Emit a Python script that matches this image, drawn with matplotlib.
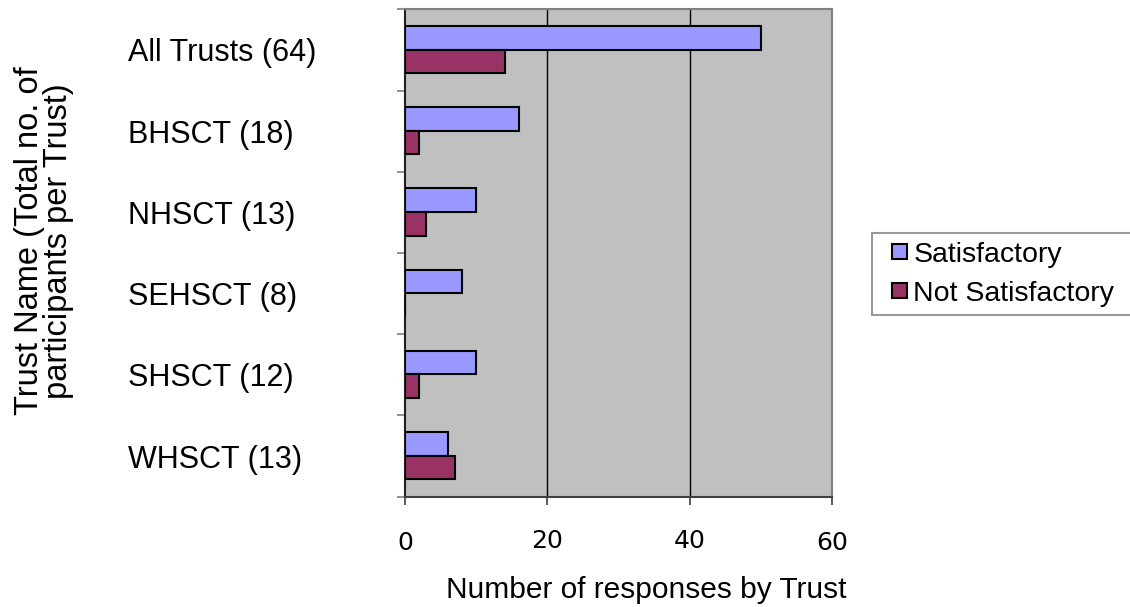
import numpy as np
import matplotlib
matplotlib.use("Agg")
import matplotlib.pyplot as plt
import matplotlib.transforms as mtransforms
from matplotlib.patches import Patch, Rectangle
from matplotlib.legend_handler import HandlerPatch

plt.rcParams['font.family'] = ['Liberation Sans', 'DejaVu Sans']

# responses per trust
trusts = ["All Trusts (64)", "BHSCT (18)", "NHSCT (13)", "SEHSCT (8)", "SHSCT (12)", "WHSCT (13)"]
satisfactory = [50, 16, 10, 8, 10, 6]
not_satisfactory = [14, 2, 3, 0, 2, 7]
x_ticks = [0, 20, 40, 60]

sat_color = "#9999FF"
not_color = "#993366"

fig = plt.figure(figsize=(11.3, 6.07), dpi=100)
ax = fig.add_axes([405 / 1130, 1 - 496.7 / 607, 427 / 1130, 487.4 / 607])
ax.set_facecolor("#C0C0C0")

pos = np.arange(len(trusts))
h = 0.29
ax.barh(pos + 0.495 - h / 2, satisfactory, height=h, color=sat_color,
        edgecolor="black", linewidth=1.5, zorder=3)
ax.barh(pos + 0.495 + h / 2, not_satisfactory, height=h, color=not_color,
        edgecolor="black", linewidth=1.5, zorder=3)

ax.set_xlim(0, 60)
ax.set_ylim(len(trusts), 0)

# gridlines at 20 and 40
for v in x_ticks[1:-1]:
    ax.axvline(v, color="black", linewidth=1, zorder=1)

# category boundaries get tick marks, labels sit in between
ax.set_yticks(np.arange(len(trusts) + 1))
ax.set_yticklabels([])
ax.set_yticks(pos + 0.5, minor=True)
ax.set_yticklabels(trusts, minor=True, ha="left")
ax.tick_params(axis="y", which="minor", length=0, pad=277 * 0.72, labelsize=22)
ax.tick_params(axis="y", which="major", length=6, width=1.2, color="#808080", direction="out")

ax.set_xticks(x_ticks)
ax.set_xticklabels([str(v) for v in x_ticks])
ax.tick_params(axis="x", length=6, width=1.2, color="#404040", direction="out",
               pad=17, labelsize=18)
# the end labels sit slightly lower
for i, lab in enumerate(ax.get_xticklabels()):
    lab.set_family("DejaVu Sans")
    if i in (0, len(x_ticks) - 1):
        lab.set_transform(lab.get_transform() +
                          mtransforms.ScaledTranslation(0, -2.5 / 100, fig.dpi_scale_trans))

for side in ("top", "right"):
    ax.spines[side].set_color("#808080")
    ax.spines[side].set_linewidth(1.5)
ax.spines["left"].set_color("#202020")
ax.spines["left"].set_linewidth(1.5)
ax.spines["bottom"].set_color("#404040")
ax.spines["bottom"].set_linewidth(1.5)

fig.text(646 / 1130, 1 - 590 / 607, "Number of responses by Trust", fontsize=21.5,
         ha="center", va="center")
fig.text(44 / 1130, 1 - 241 / 607, "Trust Name (Total no. of\nparticipants per Trust)",
         fontsize=23.5, rotation=90, ha="center", va="center", multialignment="center",
         linespacing=0.95)


def square_handle(legend, orig_handle, xdescent, ydescent, width, height, fontsize):
    # small square pushed to the right end of the handle box
    s = 15 * 72 / 100
    return Rectangle((-xdescent + width - s, -ydescent + (height - s) / 2), s, s)


handles = [Patch(facecolor=sat_color, edgecolor="black", linewidth=1.5),
           Patch(facecolor=not_color, edgecolor="black", linewidth=1.5)]
leg = fig.legend(handles, ["Satisfactory", "Not Satisfactory"],
                 bbox_to_anchor=(872 / 1130, 1 - 318 / 607, 1.02 - 872 / 1130, 85 / 607),
                 loc="upper left", mode="expand", fontsize=20.5, frameon=True,
                 fancybox=False, borderaxespad=0, handlelength=0.92, handleheight=0.5,
                 handletextpad=0.23, labelspacing=0.47, borderpad=0.3,
                 handler_map={Patch: HandlerPatch(patch_func=square_handle)})
leg.get_frame().set_edgecolor("#808080")
leg.get_frame().set_linewidth(1.5)

fig.savefig("out.png", dpi=100, facecolor="white")
